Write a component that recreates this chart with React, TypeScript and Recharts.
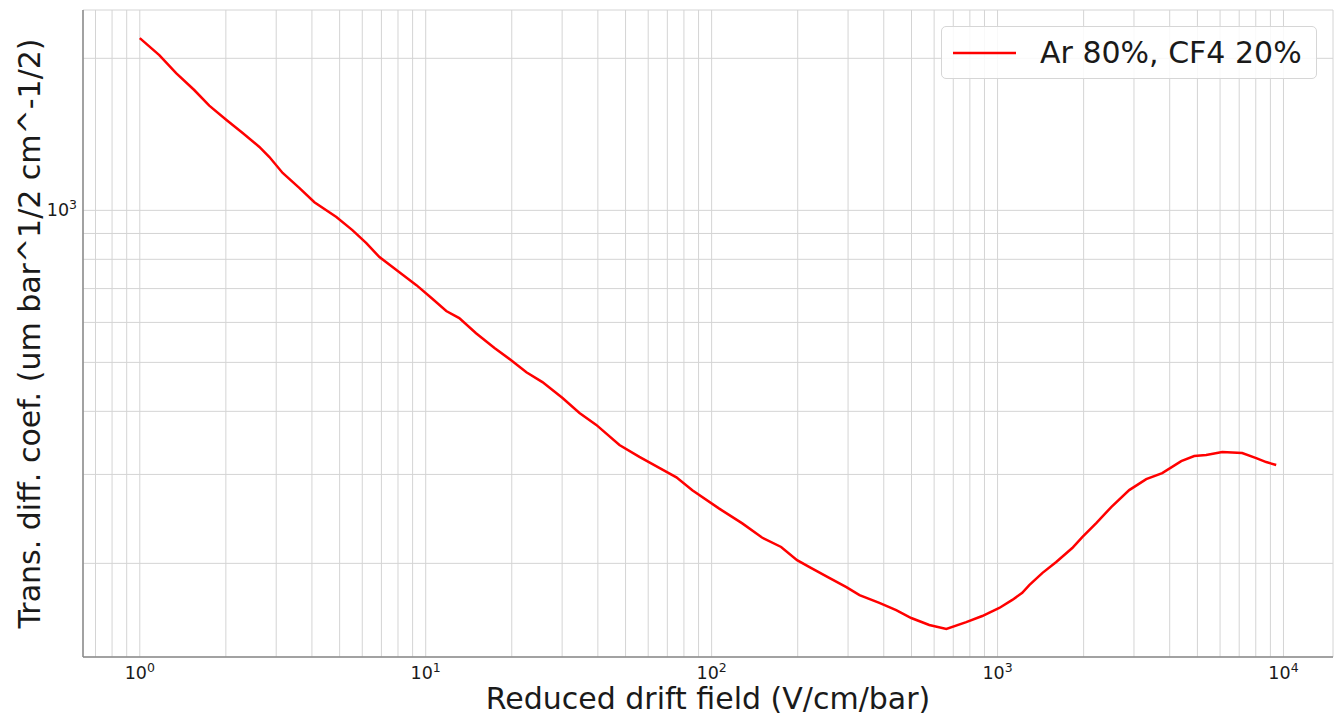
import React from "react"
import {
  LineChart,
  Line,
  XAxis,
  YAxis,
  CartesianGrid,
  Legend,
} from "recharts"

// reduced drift field (V/cm/bar)
const fieldValues = [
  1.0, 1.17, 1.34, 1.55, 1.75, 2.01, 2.29, 2.62, 2.84, 3.16, 3.62, 4.08, 4.87,
  5.54, 6.2, 6.89, 7.9, 9.28, 10.5, 11.8, 13.1, 15.0, 17.4, 19.9, 22.5, 25.6,
  30.1, 34.5, 39.5, 47.6, 55.9, 65.6, 75.3, 85.6, 106, 128, 150, 175, 199, 220,
  254, 296, 329, 386, 442, 499, 577, 662, 777, 884, 1014, 1126, 1220, 1291,
  1433, 1604, 1825, 1978, 2214, 2498, 2887, 3311, 3766, 4389, 4873, 5367, 6106,
  7171, 8027, 8700, 9430,
]

// transverse diffusion coefficient (um bar^1/2 cm^-1/2)
const transDiff = [
  2193, 2030, 1870, 1731, 1612, 1510, 1423, 1335, 1275, 1186, 1107, 1038, 970,
  914, 861, 808, 762, 711, 670, 632, 612, 571, 534, 505, 478, 457, 425, 397,
  376, 343, 325, 309, 296, 279, 257, 240, 225, 215.5, 203, 196.6, 188, 179.5,
  173, 167, 161.6, 155.9, 151, 148.3, 153, 157.3, 163.2, 169.3, 174.8, 181.1,
  191.3, 201.2, 214.5, 225.5, 240.3, 258.5, 279.3, 293.7, 301.8, 318.8, 326.2,
  327.7, 332.2, 330.7, 323.2, 317.4, 313.1,
]

const xTicks = [
  0.7, 0.8, 0.9, 1, 2, 3, 4, 5, 6, 7, 8, 9, 10, 20, 30, 40, 50, 60, 70, 80, 90,
  100, 200, 300, 400, 500, 600, 700, 800, 900, 1000, 2000, 3000, 4000, 5000,
  6000, 7000, 8000, 9000, 10000,
]
const yTicks = [200, 300, 400, 500, 600, 700, 800, 900, 1000, 2000]

const xDomain = [0.633, 14900]
const yDomain = [130.5, 2493]

const seriesName = "Ar 80%, CF4 20%"
const xLabel = "Reduced drift field (V/cm/bar)"
const yLabel = "Trans. diff. coef. (um bar^1/2 cm^-1/2)"

const data = fieldValues.map((field, i) => ({ field, coef: transDiff[i] }))

const FONT = "'DejaVu Sans', sans-serif"
const TEXT = "#1a1a1a"
const SPINE = "#8a8a8a"

function decade(v: number) {
  const e = Math.log10(v)
  return Math.abs(e - Math.round(e)) < 1e-9 ? Math.round(e) : null
}

function XTick({ x, y, payload }: any) {
  const e = decade(payload.value)
  if (e === null) return null
  return (
    <text x={x} y={y + 14} textAnchor="middle" fontFamily={FONT} fill={TEXT}>
      <tspan fontSize={17.5}>10</tspan>
      <tspan fontSize={12.5} dy={-7}>{e}</tspan>
    </text>
  )
}

function YTick({ x, y, payload }: any) {
  const e = decade(payload.value)
  if (e === null) return null
  return (
    <text x={x + 2} y={y + 6} textAnchor="end" fontFamily={FONT} fill={TEXT}>
      <tspan fontSize={17.5}>10</tspan>
      <tspan fontSize={12.5} dy={-7}>{e}</tspan>
    </text>
  )
}

function LegendBox() {
  return (
    <div
      style={{
        boxSizing: "border-box",
        width: 376,
        height: 53,
        border: "1px solid #d6d6d6",
        borderRadius: 5,
        background: "rgba(255,255,255,0.85)",
        display: "flex",
        alignItems: "center",
        fontFamily: FONT,
        fontSize: 30,
        color: TEXT,
      }}
    >
      <svg width={98} height={20} style={{ flex: "none" }}>
        <line x1={11} y1={10} x2={74} y2={10} stroke="#ff0000" strokeWidth={2.5} />
      </svg>
      <span style={{ lineHeight: 1 }}>{seriesName}</span>
    </div>
  )
}

export default function App() {
  return (
    <div style={{ position: "absolute", left: 0, top: 0, background: "#fff" }}>
      <LineChart
        width={1343}
        height={715}
        data={data}
        margin={{ top: 10, right: 10, bottom: 0, left: 0 }}
      >
        <CartesianGrid stroke="#d4d4d4" strokeWidth={1} />
        <XAxis
          dataKey="field"
          type="number"
          scale="log"
          domain={xDomain}
          allowDataOverflow
          ticks={xTicks}
          interval={0}
          tick={<XTick />}
          tickLine={false}
          axisLine={{ stroke: SPINE, strokeWidth: 1.5 }}
          height={58}
          label={({ viewBox }: any) => (
            <text
              x={viewBox.x + viewBox.width / 2}
              y={viewBox.y + 41}
              textAnchor="middle"
              dominantBaseline="central"
              fontFamily={FONT}
              fontSize={30}
              fill={TEXT}
            >
              {xLabel}
            </text>
          )}
        />
        <XAxis
          xAxisId="top"
          orientation="top"
          dataKey="field"
          type="number"
          scale="log"
          domain={xDomain}
          allowDataOverflow
          tick={false}
          tickLine={false}
          axisLine={{ stroke: SPINE, strokeWidth: 1.5 }}
          height={0}
        />
        <YAxis
          type="number"
          scale="log"
          domain={yDomain}
          allowDataOverflow
          ticks={yTicks}
          interval={0}
          tick={<YTick />}
          tickLine={false}
          axisLine={{ stroke: SPINE, strokeWidth: 1.5 }}
          width={83}
          label={({ viewBox }: any) => {
            const cx = viewBox.x + 29
            const cy = viewBox.y + viewBox.height / 2
            return (
              <text
                x={cx}
                y={cy}
                transform={`rotate(-90 ${cx} ${cy})`}
                textAnchor="middle"
                dominantBaseline="central"
                fontFamily={FONT}
                fontSize={30}
                fill={TEXT}
              >
                {yLabel}
              </text>
            )
          }}
        />
        <YAxis
          yAxisId="right"
          orientation="right"
          type="number"
          scale="log"
          domain={yDomain}
          allowDataOverflow
          tick={false}
          tickLine={false}
          axisLine={{ stroke: SPINE, strokeWidth: 1.5 }}
          width={0}
        />
        <Legend
          layout="vertical"
          align="center"
          verticalAlign="middle"
          content={() => <LegendBox />}
          wrapperStyle={{ top: 26, left: 941, width: 376, height: 53 }}
        />
        <Line
          type="linear"
          dataKey="coef"
          name={seriesName}
          stroke="#ff0000"
          strokeWidth={2.5}
          dot={false}
          activeDot={false}
          isAnimationActive={false}
        />
      </LineChart>
    </div>
  )
}
